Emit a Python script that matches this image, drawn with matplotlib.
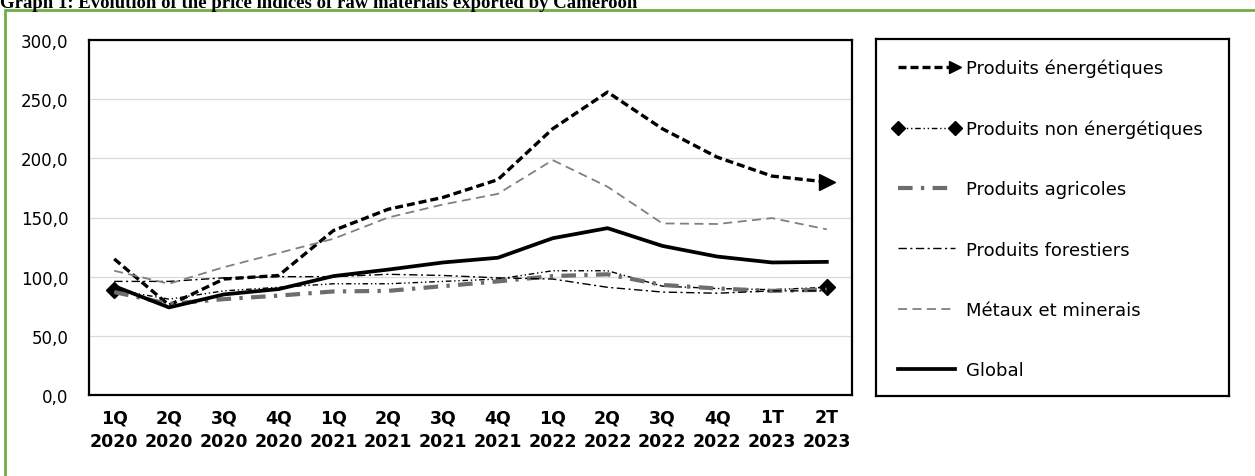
import numpy as np
import matplotlib
matplotlib.use("Agg")
import matplotlib.pyplot as plt
from matplotlib.legend_handler import HandlerLine2D
from matplotlib.patches import Rectangle

# data
periodes = ['1Q\n2020', '2Q\n2020', '3Q\n2020', '4Q\n2020',
            '1Q\n2021', '2Q\n2021', '3Q\n2021', '4Q\n2021',
            '1Q\n2022', '2Q\n2022', '3Q\n2022', '4Q\n2022',
            '1T\n2023', '2T\n2023']
energetiques = [115, 76, 98, 101, 139, 157, 167, 182, 225, 256, 225, 201, 185, 180]
non_energetiques = [89, 81, 88, 91, 94, 94, 96, 98, 105, 105, 92, 90, 89, 91]
agricoles = [87, 77, 81, 84, 87.5, 88, 92, 96, 100.5, 102, 93, 90, 88, 89]
forestiers = [96, 96, 99, 100, 100, 102, 101, 99, 98, 91, 87, 86, 88, 88]
metaux = [105, 94, 108, 120, 132, 150, 161, 170, 198.5, 176, 145, 144.5, 149.5, 140]
global_ = [92, 74, 85, 89.5, 100.5, 106, 112, 116, 132.5, 141, 126, 117, 112, 112.5]

yticks = [0, 50, 100, 150, 200, 250, 300]
ylabels = ['0,0', '50,0', '100,0', '150,0', '200,0', '250,0', '300,0']

titre = 'Graph 1: Evolution of the price indices of raw materials exported by Cameroon'

W, H = 1255, 477
fig = plt.figure(figsize=(W / 100, H / 100), dpi=100)
plt.rcParams['font.family'] = ['DejaVu Sans']

# green frame + title (cut at the top like the source)
fig.patches.append(Rectangle((5 / W, -0.1), 1.1, 1.1 - 11 / H, transform=fig.transFigure,
                             fill=False, edgecolor='#70ad47', linewidth=2))
fig.text(0.0, 1 - 8 / H, titre, family='Liberation Serif', weight='bold', fontsize=13.5,
         va='baseline', ha='left')

ax = fig.add_axes([89 / W, 1 - 396 / H, (852 - 89) / W, (396 - 41) / H])
x = np.arange(len(periodes))

l_en, = ax.plot(x, energetiques, color='black', lw=2.4, ls=(0, (2.4, 1.2)),
                marker='>', markevery=[13], ms=11, label='Produits énergétiques')
l_ne, = ax.plot(x, non_energetiques, color='black', lw=1.0, ls=(0, (4, 2, 1, 2, 1, 2)),
                marker='D', markevery=[0, 13], ms=8, label='Produits non énergétiques')
l_ag, = ax.plot(x, agricoles, color='#6d6d6d', lw=3.0, ls=(0, (3.5, 2, 0.8, 2)),
                label='Produits agricoles')
l_fo, = ax.plot(x, forestiers, color='black', lw=1.0, ls=(0, (6, 2.5, 1.5, 2.5)),
                label='Produits forestiers')
l_me, = ax.plot(x, metaux, color='#808080', lw=1.3, ls=(0, (5, 3)),
                label='Métaux et minerais')
l_gl, = ax.plot(x, global_, color='black', lw=2.7, label='Global')

ax.set_xlim(-0.46, 13.46)
ax.set_ylim(0, 300)
ax.set_yticks(yticks)
ax.set_yticklabels(ylabels, fontsize=12)
ax.set_xticks(x)
ax.set_xticklabels(periodes, fontsize=12.5, fontweight='bold', linespacing=1.45)
ax.tick_params(length=0)
ax.tick_params(axis='y', pad=15)
ax.tick_params(axis='x', pad=9.5)
ax.grid(axis='y', color='#d9d9d9', lw=0.9)
ax.set_axisbelow(True)
for s in ax.spines.values():
    s.set_linewidth(1.6)
    s.set_color('black')


class EndMarker(HandlerLine2D):
    def create_artists(self, *args, **kw):
        arts = super().create_artists(*args, **kw)
        arts[0].set_markevery([1])
        return arts


# legend in its own framed box
lax = fig.add_axes([876 / W, 1 - 397 / H, (1229 - 876) / W, (397 - 40) / H])
lax.set_xticks([])
lax.set_yticks([])
for s in lax.spines.values():
    s.set_linewidth(1.6)
    s.set_color('black')
lax.legend(handles=[l_en, l_ne, l_ag, l_fo, l_me, l_gl], loc='upper left',
           bbox_to_anchor=(0.0, 0.99), frameon=False, fontsize=13, numpoints=2,
           handlelength=3.75, handletextpad=0.35, labelspacing=2.34, markerscale=0.85,
           handler_map={l_en: EndMarker()})

plt.savefig('out.png', dpi=100)
